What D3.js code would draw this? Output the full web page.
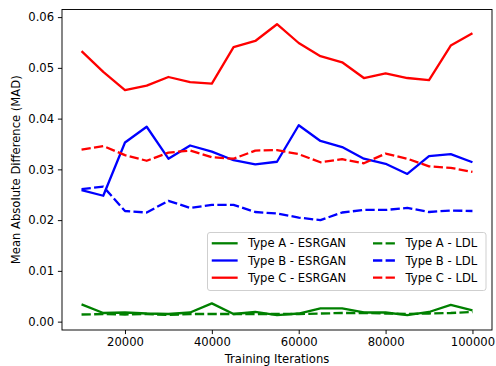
<!DOCTYPE html>
<html>
<head>
<meta charset="utf-8">
<script src="https://cdn.jsdelivr.net/npm/d3@7"></script>
<style>
  body { margin: 0; background: #fff; }
  svg text { font-family: 'DejaVu Sans', sans-serif; fill: #000; }
</style>
</head>
<body>
<svg id="chart" width="496" height="366"></svg>
<script>
const iterations = [10000, 15000, 20000, 25000, 30000, 35000, 40000, 45000, 50000, 55000,
  60000, 65000, 70000, 75000, 80000, 85000, 90000, 95000, 100000];

const typeA_esrgan = [0.0034, 0.0017, 0.0018, 0.0016, 0.0015, 0.0018, 0.0036, 0.0015, 0.0019, 0.0013,
  0.0016, 0.0026, 0.0026, 0.0018, 0.0018, 0.0013, 0.0019, 0.0033, 0.0022];
const typeB_esrgan = [0.0259, 0.0248, 0.0353, 0.0384, 0.0321, 0.0347, 0.0335, 0.0318, 0.0310, 0.0315,
  0.0387, 0.0356, 0.0344, 0.0321, 0.0311, 0.0291, 0.0326, 0.0330, 0.0314];
const typeC_esrgan = [0.0533, 0.0492, 0.0456, 0.0465, 0.0482, 0.0472, 0.0469, 0.0541, 0.0553, 0.0586,
  0.0549, 0.0523, 0.0511, 0.0480, 0.0489, 0.0480, 0.0476, 0.0544, 0.0568];

const typeA_ldl = [0.0014, 0.0015, 0.0014, 0.0015, 0.0013, 0.0015, 0.0015, 0.0015, 0.0015, 0.0015,
  0.0015, 0.0016, 0.0017, 0.0017, 0.0016, 0.0015, 0.0016, 0.0017, 0.0019];
const typeB_ldl = [0.0261, 0.0266, 0.0218, 0.0215, 0.0238, 0.0224, 0.0230, 0.0230, 0.0216, 0.0213,
  0.0205, 0.0200, 0.0215, 0.0220, 0.0220, 0.0224, 0.0216, 0.0219, 0.0218];
const typeC_ldl = [0.0339, 0.0346, 0.0328, 0.0317, 0.0333, 0.0337, 0.0324, 0.0321, 0.0337, 0.0338,
  0.0330, 0.0314, 0.0320, 0.0312, 0.0331, 0.0321, 0.0306, 0.0303, 0.0295];

const xTicks = [20000, 40000, 60000, 80000, 100000];
const yTicks = [0, 0.01, 0.02, 0.03, 0.04, 0.05, 0.06];

const series = [
  { name: 'Type A - ESRGAN', values: typeA_esrgan, color: '#008000', dashed: false },
  { name: 'Type B - ESRGAN', values: typeB_esrgan, color: '#0000ff', dashed: false },
  { name: 'Type C - ESRGAN', values: typeC_esrgan, color: '#ff0000', dashed: false },
  { name: 'Type A - LDL', values: typeA_ldl, color: '#008000', dashed: true },
  { name: 'Type B - LDL', values: typeB_ldl, color: '#0000ff', dashed: true },
  { name: 'Type C - LDL', values: typeC_ldl, color: '#ff0000', dashed: true },
];

const padding = { top: 9.5, left: 62, right: 4, bottom: 36 };
const width = 496 - padding.left - padding.right;
const height = 366 - padding.top - padding.bottom;
const fontSize = 11.6;
const lineWidth = 2.3;
const dash = '9.3,3.3';

const svg = d3.select('#chart');
const canvas = svg.append('g').attr('transform', `translate(${padding.left},${padding.top})`);

const x = d3.scaleLinear().domain([5500, 104500]).range([0, width]);
const y = d3.scaleLinear().domain([-0.00165, 0.0615]).range([height, 0]);

// axes
const xAxis = canvas.append('g')
  .attr('transform', `translate(0,${height})`)
  .call(d3.axisBottom(x).tickValues(xTicks).tickFormat(d3.format('d')).tickSize(4.1).tickPadding(3.8));
const yAxis = canvas.append('g')
  .call(d3.axisLeft(y).tickValues(yTicks).tickFormat(d3.format('.2f')).tickSize(4.1).tickPadding(3.8));

[xAxis, yAxis].forEach(a => {
  a.select('.domain').remove();
  a.selectAll('line').attr('stroke', '#000').attr('stroke-width', 0.95);
  a.selectAll('text').attr('font-size', fontSize).attr('font-family', 'DejaVu Sans');
});

// frame
canvas.append('rect')
  .attr('width', width)
  .attr('height', height)
  .attr('fill', 'none')
  .attr('stroke', '#000')
  .attr('stroke-width', 0.95);

// lines
const line = vals => d3.line()
  .x((d, i) => x(iterations[i]))
  .y(d => y(d))(vals);

canvas.append('g')
  .selectAll('path')
  .data(series)
  .join('path')
  .attr('d', d => line(d.values))
  .attr('fill', 'none')
  .attr('stroke', d => d.color)
  .attr('stroke-width', lineWidth)
  .attr('stroke-linejoin', 'round')
  .attr('stroke-dasharray', d => (d.dashed ? dash : null));

// labels
svg.append('text')
  .attr('x', padding.left + width / 2)
  .attr('y', 363)
  .attr('text-anchor', 'middle')
  .attr('font-size', fontSize)
  .text('Training Iterations');

svg.append('text')
  .attr('transform', `translate(20,${padding.top + height / 2}) rotate(-90)`)
  .attr('text-anchor', 'middle')
  .attr('font-size', fontSize)
  .text('Mean Absolute Difference (MAD)');

// legend
const legend = svg.append('g').attr('transform', 'translate(207.5,232.5)');
legend.append('rect')
  .attr('width', 278.5)
  .attr('height', 58)
  .attr('rx', 2.5)
  .attr('fill', '#fff')
  .attr('fill-opacity', 0.8)
  .attr('stroke', '#cccccc')
  .attr('stroke-width', 0.95);

const items = legend.selectAll('g.item')
  .data(series)
  .join('g')
  .attr('class', 'item')
  .attr('transform', (d, i) => `translate(${i < 3 ? 5.4 : 165.5}, ${10.8 + (i % 3) * 17.2})`);

items.append('line')
  .attr('x1', 0)
  .attr('x2', 23.6)
  .attr('stroke', d => d.color)
  .attr('stroke-width', lineWidth)
  .attr('stroke-linecap', d => (d.dashed ? 'butt' : 'square'))
  .attr('stroke-dasharray', d => (d.dashed ? dash : null));

items.append('text')
  .attr('x', (d, i) => (i < 3 ? 35 : 32.5))
  .attr('dy', '0.36em')
  .attr('font-size', fontSize)
  .text(d => d.name);
</script>
</body>
</html>
